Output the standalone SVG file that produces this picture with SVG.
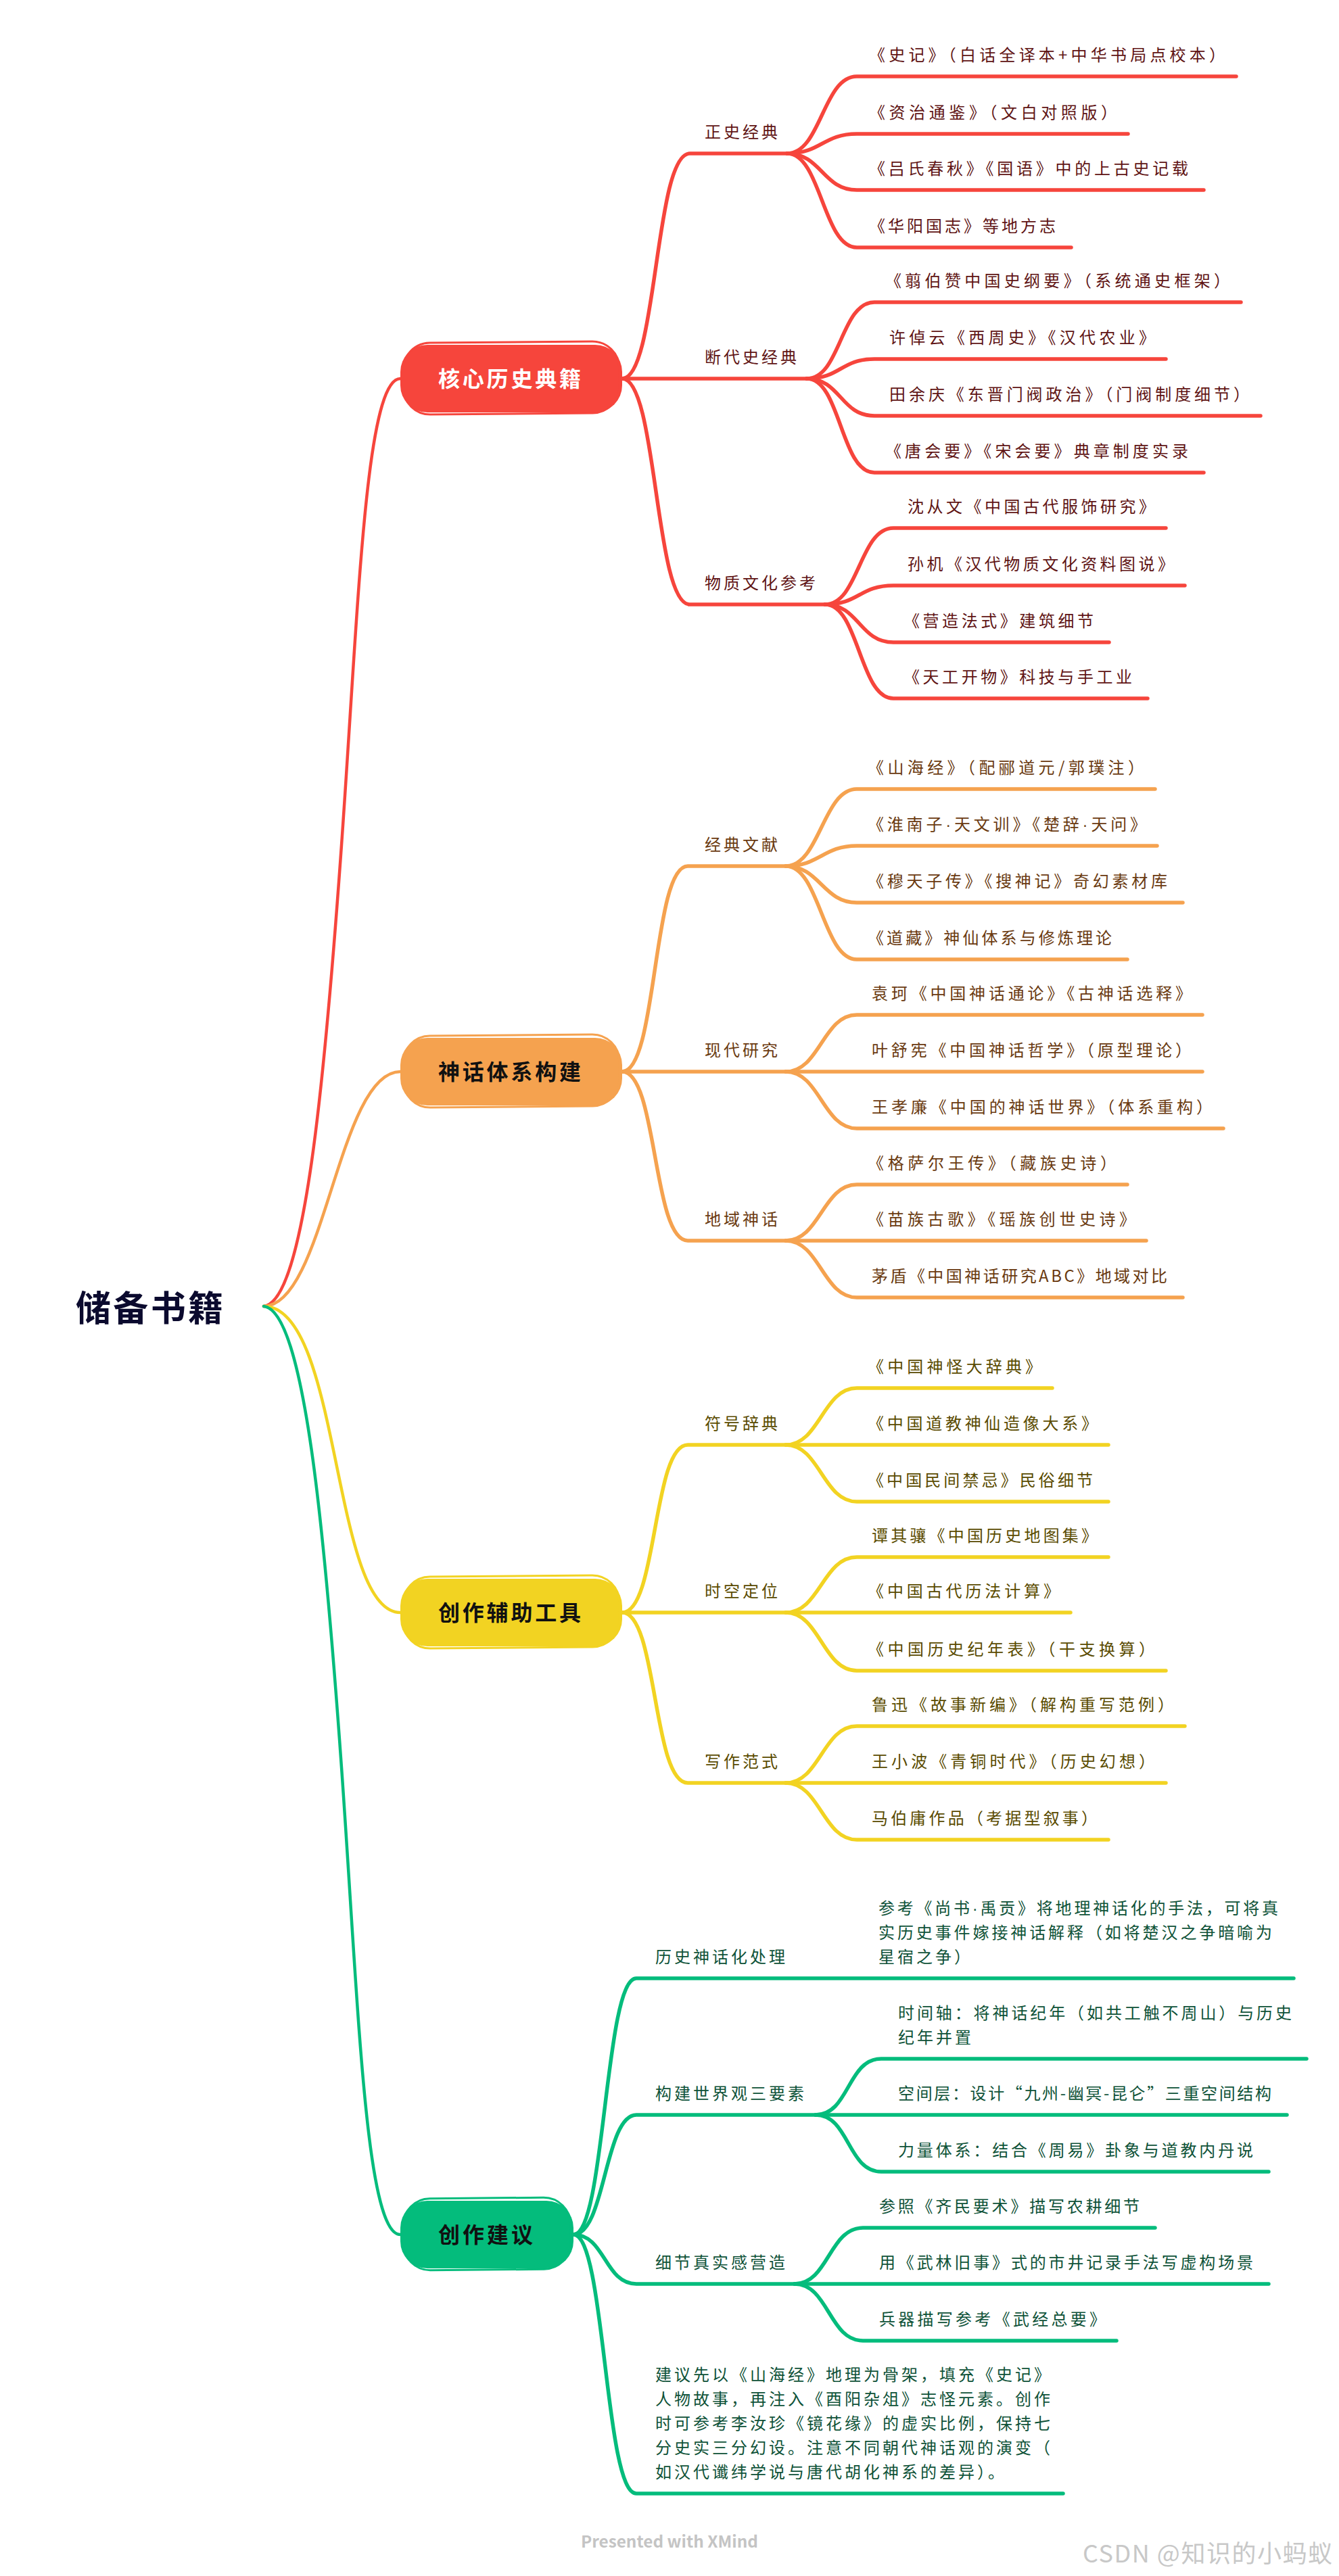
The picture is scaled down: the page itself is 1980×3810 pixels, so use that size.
<svg xmlns="http://www.w3.org/2000/svg" width="1980" height="3810" viewBox="0 0 1980 3810">
<style>
.c{fill:none;stroke-linecap:round;stroke-linejoin:round}
.r{stroke:#F6453C}.o{stroke:#F5A24F}.y{stroke:#F2D322}.g{stroke:#04BC7C}
.w4{stroke-width:4.5}.w5{stroke-width:5.5}
text{font-family:"Noto Sans CJK SC","Noto Sans",sans-serif}
.t{font-size:24px;letter-spacing:4px}
.tr{fill:#601414}.to{fill:#6a3a10}.ty{fill:#5a4b00}.tg{fill:#0e5238}
.n{font-size:32px;font-weight:bold}
.sk{fill:none;stroke-width:3}
.dot{font-family:"Liberation Sans",sans-serif}
</style>
<rect width="1980" height="3810" fill="#ffffff"/>

<g id="connectors">
<path class="c r w4" d="M390,1932 C450,1925 480,1600 505,1250 S540,560 592,560"/>
<path class="c o w4" d="M390,1932 C480,1932 500,1585 592,1585"/>
<path class="c y w4" d="M390,1932 C505,1932 490,2385 592,2385"/>
<path class="c g w4" d="M390,1932 C450,1939 480,2264 505,2614 S540,3305 592,3305"/>

<g class="c r w5">
<path d="M920,560 C972,560 968,227 1020,227 H1164"/>
<path d="M920,560 H1193"/>
<path d="M920,560 C972,560 968,894 1020,894 H1220"/>
<path d="M1164,227 C1214,227 1217,113 1267,113 H1828"/>
<path d="M1164,227 C1214,227 1217,198 1267,198 H1668"/>
<path d="M1164,227 C1214,227 1217,281 1267,281 H1780"/>
<path d="M1164,227 C1214,227 1217,366 1267,366 H1584"/>
<path d="M1193,560 C1243,560 1243,447 1293,447 H1835"/>
<path d="M1193,560 C1243,560 1243,531 1293,531 H1724"/>
<path d="M1193,560 C1243,560 1243,615 1293,615 H1864"/>
<path d="M1193,560 C1243,560 1243,699 1293,699 H1780"/>
<path d="M1220,894 C1270,894 1271,781 1321,781 H1724"/>
<path d="M1220,894 C1270,894 1271,866 1321,866 H1752"/>
<path d="M1220,894 C1270,894 1271,950 1321,950 H1640"/>
<path d="M1220,894 C1270,894 1271,1033 1321,1033 H1697"/>
</g>

<g class="c o w5">
<path d="M920,1585 C972,1585 965,1281 1017,1281 H1162"/>
<path d="M920,1585 H1162"/>
<path d="M920,1585 C972,1585 965,1835 1017,1835 H1162"/>
<path d="M1162,1281 C1212,1281 1217,1167 1267,1167 H1708"/>
<path d="M1162,1281 C1212,1281 1217,1251 1267,1251 H1711"/>
<path d="M1162,1281 C1212,1281 1217,1335 1267,1335 H1749"/>
<path d="M1162,1281 C1212,1281 1217,1419 1267,1419 H1667"/>
<path d="M1162,1585 C1212,1585 1217,1501 1267,1501 H1778"/>
<path d="M1162,1585 H1778"/>
<path d="M1162,1585 C1212,1585 1217,1669 1267,1669 H1809"/>
<path d="M1162,1835 C1212,1835 1217,1752 1267,1752 H1667"/>
<path d="M1162,1835 H1695"/>
<path d="M1162,1835 C1212,1835 1217,1919 1267,1919 H1749"/>
</g>

<g class="c y w5">
<path d="M920,2385 C972,2385 965,2137 1017,2137 H1162"/>
<path d="M920,2385 H1162"/>
<path d="M920,2385 C972,2385 965,2637 1017,2637 H1162"/>
<path d="M1162,2137 C1212,2137 1217,2053 1267,2053 H1556"/>
<path d="M1162,2137 H1639"/>
<path d="M1162,2137 C1212,2137 1217,2221 1267,2221 H1639"/>
<path d="M1162,2385 C1212,2385 1217,2303 1267,2303 H1639"/>
<path d="M1162,2385 H1583"/>
<path d="M1162,2385 C1212,2385 1217,2471 1267,2471 H1724"/>
<path d="M1162,2637 C1212,2637 1217,2553 1267,2553 H1752"/>
<path d="M1162,2637 H1724"/>
<path d="M1162,2637 C1212,2637 1217,2721 1267,2721 H1639"/>
</g>

<g class="c g w5">
<path d="M848,3305 C895,3305 894,2926 941,2926 H1913"/>
<path d="M848,3305 C895,3305 894,3128 941,3128 H1206"/>
<path d="M848,3305 C895,3305 894,3378 941,3378 H1175"/>
<path d="M848,3305 C895,3305 894,3688 941,3688 H1572"/>
<path d="M1206,3128 C1256,3128 1253,3045 1303,3045 H1932"/>
<path d="M1206,3128 H1903"/>
<path d="M1206,3128 C1256,3128 1253,3212 1303,3212 H1876"/>
<path d="M1175,3378 C1225,3378 1226,3295 1276,3295 H1708"/>
<path d="M1175,3378 H1876"/>
<path d="M1175,3378 C1225,3378 1226,3462 1276,3462 H1651"/>
</g>
</g>

<g id="root">
<text x="112" y="1954" font-size="52" font-weight="bold" fill="#0b0a2e" textLength="218" lengthAdjust="spacing">储备书籍</text>
</g>

<g id="node-core">
<rect x="592" y="510" width="328" height="100" rx="40" fill="#F6453C"/>
<rect class="sk r" x="596" y="506" width="320" height="106" rx="40" transform="rotate(-0.5 756 560)"/>
<text class="n" x="648" y="572" fill="#ffffff" textLength="211" lengthAdjust="spacing">核心历史典籍</text>
</g>
<g id="node-myth">
<rect x="592" y="1535" width="328" height="100" rx="40" fill="#F5A24F"/>
<rect class="sk o" x="596" y="1531" width="320" height="106" rx="40" transform="rotate(-0.5 756 1585)"/>
<text class="n" x="648" y="1597" fill="#111111" textLength="211" lengthAdjust="spacing">神话体系构建</text>
</g>
<g id="node-tools">
<rect x="592" y="2335" width="328" height="100" rx="40" fill="#F2D322"/>
<rect class="sk y" x="596" y="2331" width="320" height="106" rx="40" transform="rotate(-0.5 756 2385)"/>
<text class="n" x="648" y="2397" fill="#111111" textLength="211" lengthAdjust="spacing">创作辅助工具</text>
</g>
<g id="node-advice">
<rect x="592" y="3255" width="256" height="100" rx="40" fill="#04BC7C"/>
<rect class="sk g" x="596" y="3251" width="248" height="106" rx="40" transform="rotate(-0.5 720 3305)"/>
<text class="n" x="648" y="3317" fill="#111111" textLength="140" lengthAdjust="spacing">创作建议</text>
</g>

<g id="sub-red">
<text class="t tr" x="1042" y="204">正史经典</text>
<text class="t tr" x="1042" y="537">断代史经典</text>
<text class="t tr" x="1042" y="871">物质文化参考</text>
</g>
<g id="leaf-red">
<text class="t tr" x="1285" y="90" textLength="531" lengthAdjust="spacing">《史记》（白话全译本+中华书局点校本）</text>
<text class="t tr" x="1285" y="175" textLength="371" lengthAdjust="spacing">《资治通鉴》（文白对照版）</text>
<text class="t tr" x="1285" y="258" textLength="476" lengthAdjust="spacing">《吕氏春秋》《国语》中的上古史记载</text>
<text class="t tr" x="1285" y="343" textLength="280" lengthAdjust="spacing">《华阳国志》等地方志</text>
<text class="t tr" x="1309" y="424" textLength="514" lengthAdjust="spacing">《翦伯赞中国史纲要》（系统通史框架）</text>
<text class="t tr" x="1315" y="508" textLength="397" lengthAdjust="spacing">许倬云《西周史》《汉代农业》</text>
<text class="t tr" x="1315" y="592" textLength="537" lengthAdjust="spacing">田余庆《东晋门阀政治》（门阀制度细节）</text>
<text class="t tr" x="1309" y="676" textLength="452" lengthAdjust="spacing">《唐会要》《宋会要》典章制度实录</text>
<text class="t tr" x="1342" y="758" textLength="370" lengthAdjust="spacing">沈从文《中国古代服饰研究》</text>
<text class="t tr" x="1342" y="843" textLength="398" lengthAdjust="spacing">孙机《汉代物质文化资料图说》</text>
<text class="t tr" x="1336" y="927" textLength="285" lengthAdjust="spacing">《营造法式》建筑细节</text>
<text class="t tr" x="1336" y="1010" textLength="342" lengthAdjust="spacing">《天工开物》科技与手工业</text>
</g>

<g id="sub-orange">
<text class="t to" x="1042" y="1258">经典文献</text>
<text class="t to" x="1042" y="1562">现代研究</text>
<text class="t to" x="1042" y="1812">地域神话</text>
</g>
<g id="leaf-orange">
<text class="t to" x="1283" y="1144" textLength="413" lengthAdjust="spacing">《山海经》（配郦道元/郭璞注）</text>
<text class="t to" x="1283" y="1228" textLength="416" lengthAdjust="spacing">《淮南子<tspan class="dot">·</tspan>天文训》《楚辞<tspan class="dot">·</tspan>天问》</text>
<text class="t to" x="1283" y="1312" textLength="447" lengthAdjust="spacing">《穆天子传》《搜神记》奇幻素材库</text>
<text class="t to" x="1283" y="1396" textLength="365" lengthAdjust="spacing">《道藏》神仙体系与修炼理论</text>
<text class="t to" x="1289" y="1478" textLength="477" lengthAdjust="spacing">袁珂《中国神话通论》《古神话选释》</text>
<text class="t to" x="1289" y="1562" textLength="477" lengthAdjust="spacing">叶舒宪《中国神话哲学》（原型理论）</text>
<text class="t to" x="1289" y="1646" textLength="508" lengthAdjust="spacing">王孝廉《中国的神话世界》（体系重构）</text>
<text class="t to" x="1283" y="1729" textLength="372" lengthAdjust="spacing">《格萨尔王传》（藏族史诗）</text>
<text class="t to" x="1283" y="1812" textLength="400" lengthAdjust="spacing">《苗族古歌》《瑶族创世史诗》</text>
<text class="t to" x="1289" y="1896" textLength="441" lengthAdjust="spacing">茅盾《中国神话研究ABC》地域对比</text>
</g>

<g id="sub-yellow">
<text class="t ty" x="1042" y="2114">符号辞典</text>
<text class="t ty" x="1042" y="2362">时空定位</text>
<text class="t ty" x="1042" y="2614">写作范式</text>
</g>
<g id="leaf-yellow">
<text class="t ty" x="1283" y="2030" textLength="261" lengthAdjust="spacing">《中国神怪大辞典》</text>
<text class="t ty" x="1283" y="2114" textLength="344" lengthAdjust="spacing">《中国道教神仙造像大系》</text>
<text class="t ty" x="1283" y="2198" textLength="337" lengthAdjust="spacing">《中国民间禁忌》民俗细节</text>
<text class="t ty" x="1289" y="2280" textLength="338" lengthAdjust="spacing">谭其骧《中国历史地图集》</text>
<text class="t ty" x="1283" y="2362" textLength="288" lengthAdjust="spacing">《中国古代历法计算》</text>
<text class="t ty" x="1283" y="2448" textLength="429" lengthAdjust="spacing">《中国历史纪年表》（干支换算）</text>
<text class="t ty" x="1289" y="2530" textLength="451" lengthAdjust="spacing">鲁迅《故事新编》（解构重写范例）</text>
<text class="t ty" x="1289" y="2614" textLength="423" lengthAdjust="spacing">王小波《青铜时代》（历史幻想）</text>
<text class="t ty" x="1289" y="2698" textLength="338" lengthAdjust="spacing">马伯庸作品（考据型叙事）</text>
</g>

<g id="sub-green">
<text class="t tg" x="969" y="2903">历史神话化处理</text>
<text class="t tg" x="969" y="3105">构建世界观三要素</text>
<text class="t tg" x="969" y="3355">细节真实感营造</text>
<text class="t tg" x="969" y="3521">建议先以《山海经》地理为骨架，填充《史记》</text>
<text class="t tg" x="969" y="3557">人物故事，再注入《酉阳杂俎》志怪元素。创作</text>
<text class="t tg" x="969" y="3593">时可参考李汝珍《镜花缘》的虚实比例，保持七</text>
<text class="t tg" x="969" y="3629">分史实三分幻设。注意不同朝代神话观的演变（</text>
<text class="t tg" x="969" y="3665">如汉代谶纬学说与唐代胡化神系的差异）。</text>
</g>
<g id="leaf-green">
<text class="t tg" x="1299" y="2831" textLength="595" lengthAdjust="spacing">参考《尚书<tspan class="dot">·</tspan>禹贡》将地理神话化的手法，可将真</text>
<text class="t tg" x="1299" y="2867" textLength="586" lengthAdjust="spacing">实历史事件嫁接神话解释（如将楚汉之争暗喻为</text>
<text class="t tg" x="1299" y="2903">星宿之争）</text>
<text class="t tg" x="1328" y="2986" textLength="586" lengthAdjust="spacing">时间轴：将神话纪年（如共工触不周山）与历史</text>
<text class="t tg" x="1328" y="3022">纪年并置</text>
<text class="t tg" x="1328" y="3105" textLength="556" lengthAdjust="spacing">空间层：设计“九州-幽冥-昆仑”三重空间结构</text>
<text class="t tg" x="1328" y="3189" textLength="529" lengthAdjust="spacing">力量体系：结合《周易》卦象与道教内丹说</text>
<text class="t tg" x="1300" y="3272" textLength="389" lengthAdjust="spacing">参照《齐民要术》描写农耕细节</text>
<text class="t tg" x="1300" y="3355" textLength="557" lengthAdjust="spacing">用《武林旧事》式的市井记录手法写虚构场景</text>
<text class="t tg" x="1300" y="3439" textLength="339" lengthAdjust="spacing">兵器描写参考《武经总要》</text>
</g>

<g id="footer">
<text x="859" y="3768" font-family="'Liberation Sans',sans-serif" font-size="24" font-weight="bold" fill="#c4c4c4" textLength="262" lengthAdjust="spacingAndGlyphs">Presented with XMind</text>
<text x="1601" y="3790" font-size="36" fill="#c8c8c8" textLength="369" lengthAdjust="spacing">CSDN @知识的小蚂蚁</text>
</g>
</svg>
